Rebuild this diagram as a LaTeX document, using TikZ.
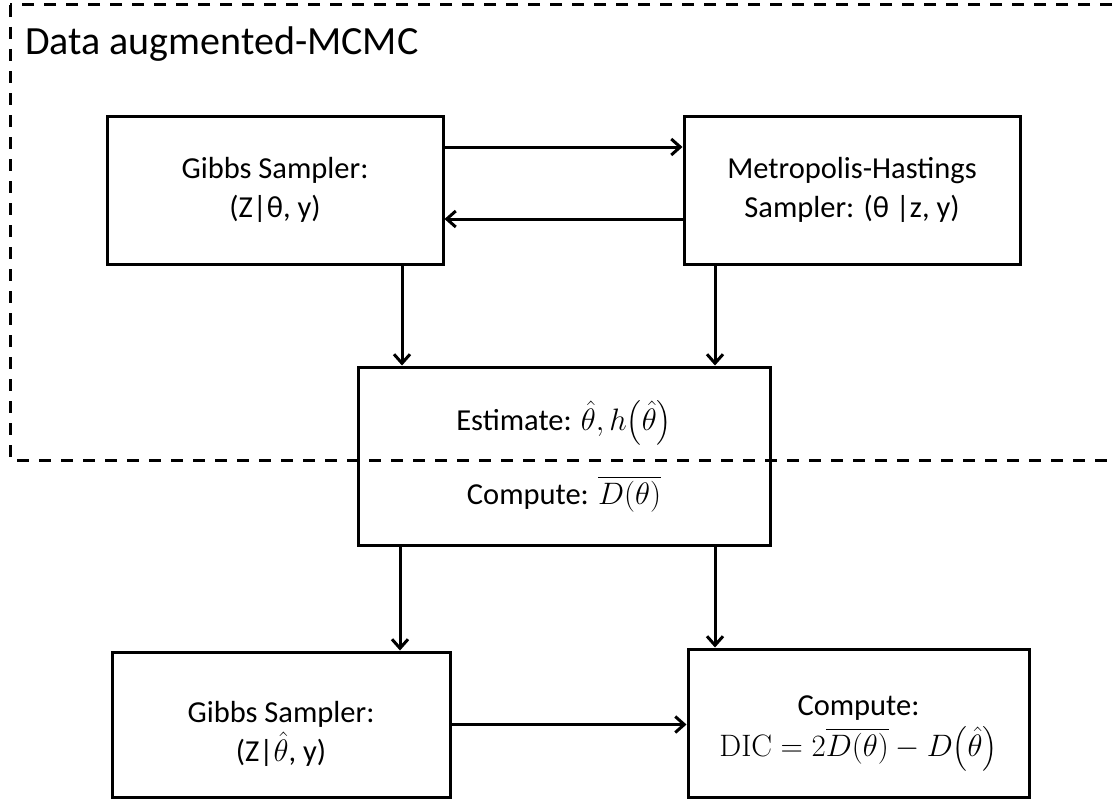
\RequirePackage{fix-cm}
\documentclass[tikz,border=0pt]{standalone}
\usepackage[no-math]{fontspec}
\setmainfont{Carlito}
\usepackage{amsmath}
\usetikzlibrary{arrows.meta}
% formulas are set a little larger than the surrounding text
\newcommand{\bigmath}[1]{{\fontsize{31}{39}\selectfont$#1$}}
% extra head room on a first line, to lower the text block in its box
\newcommand{\headroom}{\rule{0pt}{40pt}}
\begin{document}
\begin{tikzpicture}[x=1pt,y=-1pt,
  box/.style={draw,line width=3pt,inner sep=0pt,align=center,
    font=\fontsize{30.5}{39}\selectfont},
  arr/.style={line width=3pt,
    -{Straight Barb[length=9pt,width=16pt,line width=3pt]}},
  region/.style={line width=3pt,dash pattern=on 12pt off 10pt}]
\useasboundingbox (0,0) rectangle (1115,800);
\clip (0,0) rectangle (1115,800);

% dashed frame of the MCMC stage (runs past the right edge)
\draw[region] (10,5) rectangle (1140,460);
\node[anchor=base west,inner sep=0pt,font=\fontsize{40}{46}\selectfont]
  (title) at (25,55) {Data augmented-MCMC};

% boxes
\node[box,minimum width=336pt,minimum height=148pt] (gibbs) at (275,190)
  {Gibbs Sampler:\\(Z|θ, y)};
\node[box,minimum width=336pt,minimum height=148pt] (mh) at (852,190)
  {Metropolis-Hastings\\Sampler: (θ |z, y)};
\node[box,minimum width=412pt,minimum height=178pt] (est) at (564,456)
  {Estimate: \bigmath{\hat{\theta}, h\bigl(\hat{\theta}\bigr)}\\[30pt]
   Compute: \bigmath{\overline{D(\theta)}}};
\node[box,minimum width=338pt,minimum height=145pt] (gibbs2) at (281,724.5)
  {\headroom Gibbs Sampler:\\(Z|\bigmath{\hat{\theta}}, y)};
\node[box,minimum width=341pt,minimum height=148pt] (dic) at (858.5,723)
  {\headroom Compute:\\[2pt]\bigmath{\mathrm{DIC} = 2\overline{D(\theta)} - D\bigl(\hat{\theta}\bigr)}};

% connectors
\draw[arr] ([yshift=43pt]gibbs.east) -- ([yshift=43pt]gibbs.east -| mh.west);
\draw[arr] ([yshift=-29pt]mh.west) -- ([yshift=-29pt]mh.west -| gibbs.east);
\draw[arr] ([xshift=127pt]gibbs.south) -- ([xshift=127pt]gibbs.south |- est.north);
\draw[arr] ([xshift=-137pt]mh.south) -- ([xshift=-137pt]mh.south |- est.north);
\draw[arr] ([xshift=-164pt]est.south) -- ([xshift=-164pt]est.south |- gibbs2.north);
\draw[arr] ([xshift=151pt]est.south) -- ([xshift=151pt]est.south |- dic.north);
\draw[arr] (gibbs2.east) -- (gibbs2.east -| dic.west);
\end{tikzpicture}
\end{document}
